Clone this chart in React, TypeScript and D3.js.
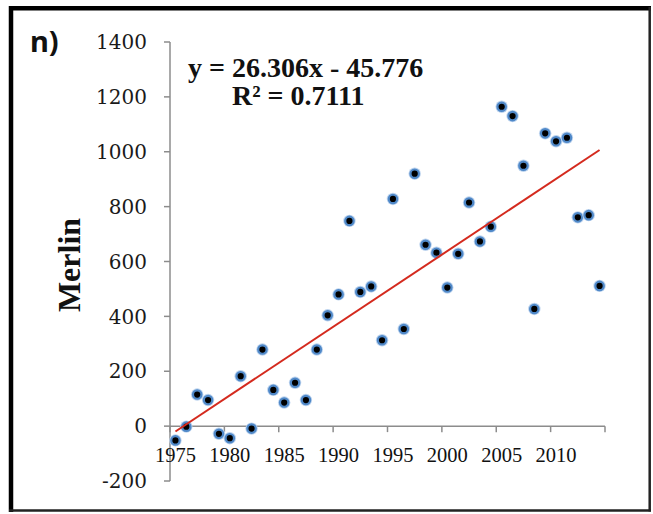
import React from "react";
import * as d3 from "d3";

const years: number[] = d3.range(1975, 2015);
const merlin: number[] = [
  -52, -2, 115, 95, -28, -44, 182, -9, 279, 132,
  86, 158, 95, 279, 404, 480, 748, 489, 509, 313,
  828, 354, 920, 661, 632, 505, 628, 815, 673, 727,
  1164, 1130, 949, 427, 1067, 1038, 1051, 761, 769, 511,
];
const yTicks: number[] = [-200, 0, 200, 400, 600, 800, 1000, 1200, 1400];
const xTicks: number[] = [1975, 1980, 1985, 1990, 1995, 2000, 2005, 2010, 2015];
const xTickLabels: string[] = ["1975", "1980", "1985", "1990", "1995", "2000", "2005", "2010", ""];
const slope = 26.306;
const intercept = -45.776;
const equationLine = "y = 26.306x - 45.776";
const r2Line = "R² = 0.7111";
const panelLabel = "n)";
const yTitle = "Merlin";

export default function App() {
  const W = 653;
  const H = 514;
  const x = d3.scaleLinear().domain([1975, 2015]).range([170, 605]);
  const y = d3.scaleLinear().domain([-200, 1400]).range([481, 42]);
  const half = 0.5;
  const px = (yr: number) => x(yr + half);
  const trend = years.map((yr, i) => [px(yr), y(slope * (i + 1) + intercept)] as [number, number]);
  const line = d3.line();
  const axisColor = "#8c8c8c";

  return (
    <svg width={W} height={H} style={{ position: "absolute", left: 0, top: 0, background: "#fff" }}>
      {/* frame */}
      <line x1={11} y1={6} x2={11} y2={512} stroke="#000" strokeWidth={4.5} />
      <line x1={9} y1={8.3} x2={651} y2={8.3} stroke="#000" strokeWidth={4.5} />
      <line x1={649.7} y1={7} x2={649.7} y2={511.5} stroke="#222" strokeWidth={2.5} />
      <line x1={9} y1={510.5} x2={651} y2={510.5} stroke="#222" strokeWidth={2.5} />

      <text x={30} y={52} fontFamily="Noto Sans" fontWeight="bold" fontSize={29} fill="#111">
        {panelLabel}
      </text>

      {/* y axis */}
      <line x1={x(1975)} y1={y(1400)} x2={x(1975)} y2={y(-200)} stroke={axisColor} strokeWidth={1.5} />
      {yTicks.map((t) => (
        <g key={t}>
          <line x1={x(1975) - 6} x2={x(1975)} y1={y(t)} y2={y(t)} stroke={axisColor} strokeWidth={1.5} />
          <text x={147} y={y(t)} dy="0.36em" textAnchor="end" fontFamily="DejaVu Serif" fontSize={20} fill="#1a1a1a">
            {t}
          </text>
        </g>
      ))}

      {/* x axis at zero */}
      <line x1={x(1975)} y1={y(0)} x2={x(2015)} y2={y(0)} stroke={axisColor} strokeWidth={1.5} />
      {xTicks.map((t, i) => (
        <g key={t}>
          <line x1={x(t)} x2={x(t)} y1={y(0)} y2={y(0) + 6} stroke={axisColor} strokeWidth={1.5} />
          <text x={x(t + half)} y={462} textAnchor="middle" fontFamily="Liberation Serif" fontSize={20.5} fill="#111">
            {xTickLabels[i]}
          </text>
        </g>
      ))}

      <text
        transform={`translate(80,265) rotate(-90)`}
        textAnchor="middle"
        fontFamily="Liberation Serif"
        fontWeight="bold"
        fontSize={32}
        fill="#111"
      >
        {yTitle}
      </text>

      {/* points */}
      {years.map((yr, i) => (
        <g key={yr}>
          <circle cx={px(yr)} cy={y(merlin[i])} r={6.2} fill="#bcd3ee" />
          <circle cx={px(yr)} cy={y(merlin[i])} r={4.2} fill="#000" stroke="#4f88c8" strokeWidth={2.2} />
        </g>
      ))}

      {/* trend line */}
      <path d={line([trend[0], trend[trend.length - 1]]) || ""} stroke="#d42a1e" strokeWidth={2} fill="none" />

      <text x={188} y={77} fontFamily="Liberation Serif" fontWeight="bold" fontSize={28} fill="#111">
        {equationLine}
      </text>
      <text x={232} y={105} fontFamily="Liberation Serif" fontWeight="bold" fontSize={28} fill="#111">
        {r2Line}
      </text>
    </svg>
  );
}
